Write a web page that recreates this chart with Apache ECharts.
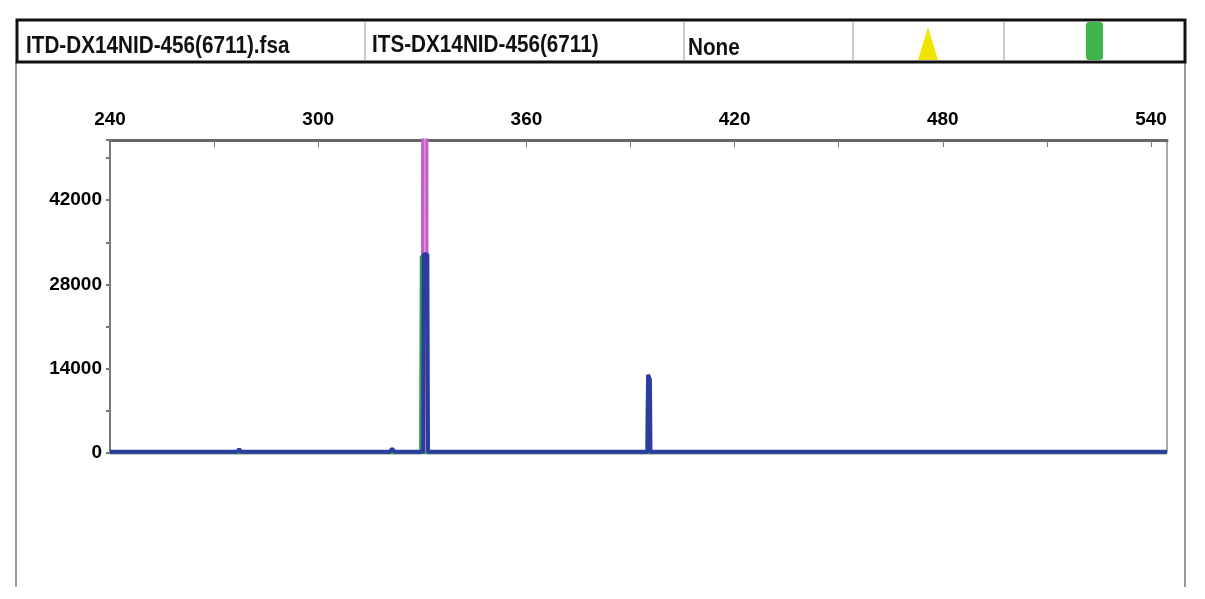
<!DOCTYPE html>
<html>
<head>
<meta charset="utf-8">
<title>ITD-DX14NID-456(6711)</title>
<script src="https://cdn.jsdelivr.net/npm/echarts@6/dist/echarts.min.js"></script>
<style>
  html, body { margin: 0; padding: 0; background: #fff; }
  #myChart_trace { width: 1205px; height: 599px; }
</style>
</head>
<body>
<div id="myChart_trace"></div>
<script>
// 表头文字
var headerTexts = ['ITD-DX14NID-456(6711).fsa', 'ITS-DX14NID-456(6711)', 'None']

// 坐标轴范围 / 刻度
var xMin = 240
var xMax = 544.6
var xTickStep = 30
var xLabelStep = 60
var yMin = 0
var yMax = 52000
var yLabelStep = 14000
var yTickStep = 7000

// 各通道曲线 [碱基长度, 荧光强度]
var pinkTrace = [[240, 0], [330.0, 0], [330.1, 60000], [331.3, 60000], [331.4, 0], [544.6, 0]]
var greenTrace = [[240, 0], [329.5, 0], [329.7, 32800], [330.3, 0], [394.7, 0], [394.9, 12400], [395.3, 0], [544.6, 0]]
var blueTrace = [
  [240, 200], [276.6, 200], [277.2, 600], [277.8, 200],
  [320.6, 200], [321.3, 700], [322.0, 200],
  [329.3, 200], [329.7, 500], [330.25, 200], [330.4, 33000], [331.45, 33000], [331.65, 200],
  [394.9, 200], [395.05, 13000], [395.6, 12200], [395.75, 200],
  [544.6, 200]
]

var myChart_trace = echarts.init(document.getElementById('myChart_trace'))

var labelFont = {
  color: '#000',
  fontFamily: 'Liberation Sans',
  fontWeight: 'bold',
  fontSize: 19
}

//表头文字, 横向压缩
function headerText(str, x, y) {
  return {
    type: 'text',
    x: x, y: y,
    originX: 0, originY: 0,
    scaleX: 0.9,
    style: {
      text: str,
      fill: '#111',
      font: 'bold 23px "Liberation Sans"',
      textAlign: 'left',
      textVerticalAlign: 'middle'
    }
  }
}

var option_trace = {
  animation: false,
  backgroundColor: '#fff',
  grid: {
    left: 110,
    right: 38,
    top: 140,
    bottom: 146,
    show: true,
    borderColor: '#555',
    borderWidth: 1
  },
  xAxis: {
    type: 'value',
    position: 'top',
    min: xMin,
    max: xMax,
    interval: xTickStep,
    axisLine: { onZero: false, lineStyle: { color: '#666', width: 3 } },
    axisTick: { inside: true, length: 7, lineStyle: { color: '#777' } },
    axisLabel: Object.assign({
      margin: 11,
      showMaxLabel: false,
      formatter: function (v) { return v % xLabelStep === 0 ? String(v) : '' }
    }, labelFont),
    splitLine: { show: false }
  },
  yAxis: [
    {//刻度标签
      type: 'value',
      min: yMin,
      max: yMax,
      interval: yLabelStep,
      axisLine: { show: true, lineStyle: { color: '#777', width: 2 } },
      axisTick: { show: false },
      axisLabel: Object.assign({
        margin: 8,
        showMaxLabel: false,
        formatter: function (v) { return String(v) }
      }, labelFont),
      splitLine: { show: false }
    },
    {//细刻度
      type: 'value',
      position: 'left',
      min: yMin,
      max: yMax,
      interval: yTickStep,
      axisLine: { show: false },
      axisTick: { show: true, length: 4, lineStyle: { color: '#777', width: 2 } },
      axisLabel: { show: false },
      splitLine: { show: false }
    }
  ],
  graphic: [
    // 外框
    { type: 'line', shape: { x1: 16, y1: 62, x2: 16, y2: 587 }, style: { stroke: '#999', lineWidth: 2 } },
    { type: 'line', shape: { x1: 1185, y1: 62, x2: 1185, y2: 587 }, style: { stroke: '#999', lineWidth: 2 } },
    // 表头
    { type: 'rect', shape: { x: 17, y: 20, width: 1168, height: 42 }, style: { fill: '#fff', stroke: '#111', lineWidth: 3 } },
    { type: 'line', shape: { x1: 365, y1: 22, x2: 365, y2: 60 }, style: { stroke: '#999', lineWidth: 1 } },
    { type: 'line', shape: { x1: 684, y1: 22, x2: 684, y2: 60 }, style: { stroke: '#999', lineWidth: 1 } },
    { type: 'line', shape: { x1: 853, y1: 22, x2: 853, y2: 60 }, style: { stroke: '#999', lineWidth: 1 } },
    { type: 'line', shape: { x1: 1004, y1: 22, x2: 1004, y2: 60 }, style: { stroke: '#999', lineWidth: 1 } },
    headerText(headerTexts[0], 26, 47),
    headerText(headerTexts[1], 372, 46),
    headerText(headerTexts[2], 688, 49),
    { type: 'polygon', shape: { points: [[928, 27], [918, 60], [938, 60]] }, style: { fill: '#f2e400' } },
    { type: 'rect', shape: { x: 1086, y: 22, width: 17, height: 38, r: 3 }, style: { fill: '#3db54a' } }
  ],
  series: [
    {
      name: 'pink',
      type: 'line',
      data: pinkTrace,
      symbol: 'none',
      lineStyle: { color: '#c75ec7', width: 3 },
      areaStyle: { color: '#dc9adc', opacity: 1 },
      z: 2
    },
    {
      name: 'green',
      type: 'line',
      data: greenTrace,
      symbol: 'none',
      lineStyle: { color: '#2f9e50', width: 3 },
      z: 3
    },
    {
      name: 'blue',
      type: 'line',
      data: blueTrace,
      symbol: 'none',
      lineStyle: { color: '#2c3d9e', width: 4 },
      z: 4
    }
  ]
}

myChart_trace.setOption(option_trace)
</script>
</body>
</html>
